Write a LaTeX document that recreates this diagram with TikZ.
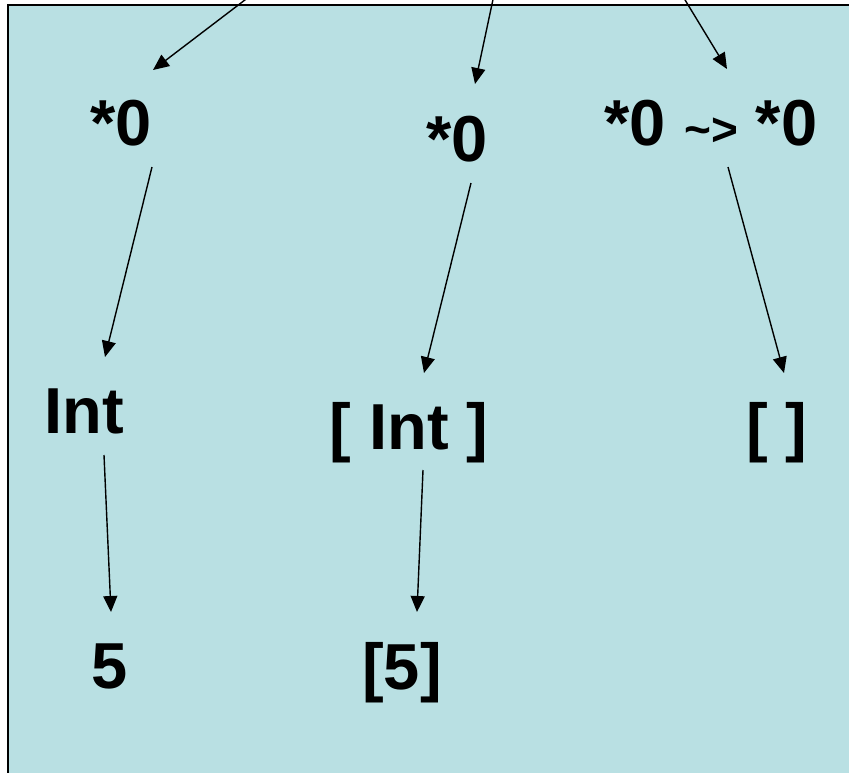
\documentclass[tikz,border=0pt]{standalone}
\usepackage{fontspec}
\setmainfont{Liberation Sans}
\usetikzlibrary{arrows.meta}
\definecolor{bg}{RGB}{185,224,227}
\begin{document}
\begin{tikzpicture}[x=1pt,y=-1pt,
  lbl/.style={font=\fontsize{65}{65}\selectfont\bfseries, inner sep=0pt, anchor=base},
  arr/.style={line width=1.4pt, -{Triangle[length=16pt,width=14pt]}}]
\useasboundingbox (0,0) rectangle (849,772);
\clip (0,0) rectangle (849,772);
\fill[bg] (8,5) rectangle (870,790);
\draw[line width=2pt] (8,790) -- (8,5) -- (870,5);
% labels
\node[lbl] (s1) at (121,145) {*0};
\node[lbl] (s2) at (457,161) {*0};
\node[lbl] (s3) at (711,145) {*0 {\fontsize{46}{46}\selectfont\textasciitilde>} *0};
\node[lbl] (i1) at (84,433) {Int};
\node[lbl] (i2) at (409,449) {[ Int ]};
\node[lbl] (i3) at (777,449) {[ ]};
\node[lbl] (v1) at (110,688) {5};
\node[lbl] (v2) at (402,689) {[5]};
% connector ends
\coordinate (t1) at (258,-10);
\coordinate (t2) at (495,-10);
\coordinate (t3) at (679,-10);
\coordinate (s1in) at (153,70);
\coordinate (s2in) at (475,84);
\coordinate (s3in) at (727,69);
\coordinate (s1out) at (152,167);
\coordinate (s2out) at (471,183);
\coordinate (s3out) at (728,167);
\coordinate (i1in) at (105,357);
\coordinate (i2in) at (424,373);
\coordinate (i3in) at (784,373);
\coordinate (i1out) at (104,455);
\coordinate (i2out) at (423,470);
\coordinate (v1in) at (111,612);
\coordinate (v2in) at (417,612);
% connectors
\draw[arr] (t1) -- (s1in);
\draw[arr] (t2) -- (s2in);
\draw[arr] (t3) -- (s3in);
\draw[arr] (s1out) -- (i1in);
\draw[arr] (s2out) -- (i2in);
\draw[arr] (s3out) -- (i3in);
\draw[arr] (i1out) -- (v1in);
\draw[arr] (i2out) -- (v2in);
\end{tikzpicture}
\end{document}
